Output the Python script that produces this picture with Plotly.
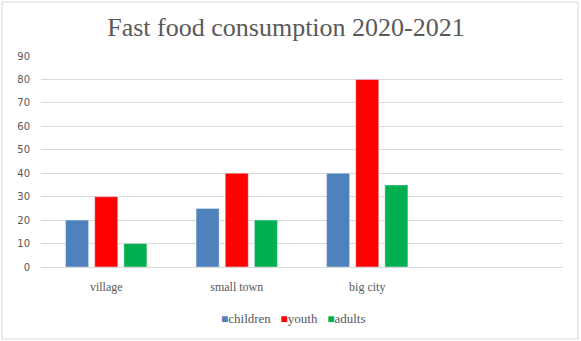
import plotly.graph_objects as go

categories = ["village", "small town", "big city", " "]
children = [20, 25, 40, None]
youth = [30, 40, 80, None]
adults = [10, 20, 35, None]
series_names = ["children", "youth", "adults"]
series_colors = ["#4F81BD", "#FF0000", "#00B050"]

W, H = 581, 341
L, R, T, B = 41, 18, 56, 74
pw, ph = W - L - R, H - T - B

fig = go.Figure()
for name, vals, col in zip(series_names, [children, youth, adults], series_colors):
    fig.add_bar(name=name, x=categories, y=vals, marker_color=col, showlegend=False)

serif = "Liberation Serif"
legend_text = "&nbsp;&nbsp;&nbsp;".join(
    f"<span style='color:{c};font-size:12px'>■</span>{n}" for n, c in zip(series_names, series_colors)
)

fig.update_layout(
    width=W, height=H,
    margin=dict(l=L, r=R, t=T, b=B),
    paper_bgcolor="white", plot_bgcolor="white",
    barmode="group", bargap=0.33, bargroupgap=0.21,
    title=dict(text="Fast food consumption 2020-2021", x=(286 - L) / pw, xanchor="center",
               xref="paper", y=1 - 27 / H, yanchor="middle",
               font=dict(family=serif, size=26, color="#595959")),
    annotations=[dict(text=legend_text, xref="paper", yref="paper", x=(293 - L) / pw,
                      y=-(318 - (T + ph)) / ph, xanchor="center", yanchor="middle",
                      showarrow=False, font=dict(family=serif, size=13, color="#595959"))],
    xaxis=dict(showgrid=False, showline=True, linecolor="#d9d9d9", ticks="",
               tickfont=dict(family=serif, size=12, color="#595959"), fixedrange=True,
               ticklabelstandoff=9),
    yaxis=dict(range=[0, 90], dtick=10, showgrid=True, gridcolor="#d9d9d9",
               zeroline=False, showline=False, ticks="",
               tickfont=dict(family="DejaVu Sans", size=10, color="#595959"),
               ticklabelstandoff=10),
    shapes=[dict(type="rect", xref="paper", yref="paper",
                 x0=(2 - L) / pw, x1=(578 - L) / pw,
                 y0=-(339 - (T + ph)) / ph, y1=1 + (T - 2) / ph,
                 line=dict(color="#d9d9d9", width=1))],
)
fig.write_html("out.html")
